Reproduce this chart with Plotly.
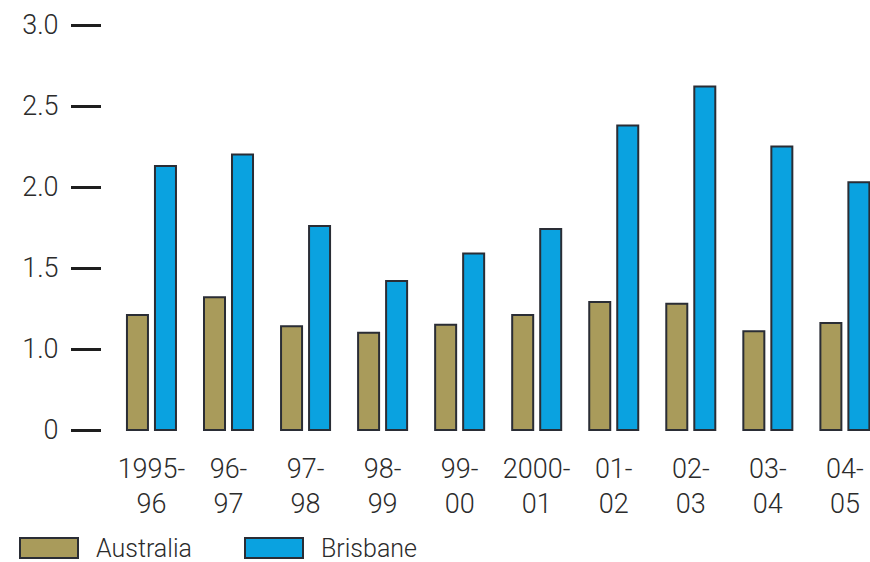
import plotly.graph_objects as go

categories = ["1995-<br>96", "96-<br>97", "97-<br>98", "98-<br>99", "99-<br>00",
              "2000-<br>01", "01-<br>02", "02-<br>03", "03-<br>04", "04-<br>05"]
australia = [1.21, 1.32, 1.14, 1.10, 1.15, 1.21, 1.29, 1.28, 1.11, 1.16]
brisbane = [2.13, 2.20, 1.76, 1.42, 1.59, 1.74, 2.38, 2.62, 2.25, 2.03]
tick_vals = [0.5, 1.0, 1.5, 2.0, 2.5, 3.0]
tick_text = ["0", "1.0", "1.5", "2.0", "2.5", "3.0"]
AXIS_BREAK = 0.5  # the axis is broken: "0" sits where 0.5 would be

C_AUS = "#a99b5b"
C_BRI = "#0aa2e0"
OUTLINE = "#2a2d35"
TXT = "#2b2b2b"
FONT = "Roboto"

x_idx = list(range(len(categories)))

fig = go.Figure()
fig.add_bar(x=x_idx, y=[v - AXIS_BREAK for v in australia], base=AXIS_BREAK,
            name="Australia", marker=dict(color=C_AUS, line=dict(color=OUTLINE, width=2)),
            customdata=australia, hovertemplate="%{customdata}<extra>Australia</extra>")
fig.add_bar(x=x_idx, y=[v - AXIS_BREAK for v in brisbane], base=AXIS_BREAK,
            name="Brisbane", marker=dict(color=C_BRI, line=dict(color=OUTLINE, width=2)),
            customdata=brisbane, hovertemplate="%{customdata}<extra>Brisbane</extra>")

fig.update_layout(
    width=870, height=562,
    margin=dict(l=102, r=0, t=15, b=130),
    paper_bgcolor="white", plot_bgcolor="white",
    barmode="group", bargap=0.273, bargroupgap=0.25,
    showlegend=False,
    font=dict(family=FONT, size=27, color=TXT, weight=300),
)
fig.update_xaxes(
    tickmode="array", tickvals=x_idx, ticktext=categories,
    range=[-0.642, 9.326], showgrid=False, zeroline=False, showline=False,
    ticks="", ticklabelstandoff=18,
    tickfont=dict(family=FONT, size=27, color=TXT, weight=300),
)
fig.update_yaxes(
    range=[0.4877, 3.0617], tickmode="array", tickvals=tick_vals, ticktext=tick_text,
    showgrid=False, zeroline=False, showline=False,
    ticks="outside", ticklen=30, tickwidth=3, tickcolor="#1e1e1e",
    ticklabelstandoff=7, tickfont=dict(family=FONT, size=27, color=TXT, weight=300),
)

# Legend drawn manually with large swatches
legend_items = [("Australia", C_AUS, 20), ("Brisbane", C_BRI, 245)]
for name, color, x0 in legend_items:
    fig.add_shape(type="rect", xref="paper", yref="paper",
                  x0=(x0 - 102) / 768, x1=(x0 + 58 - 102) / 768,
                  y0=-(558 - 432) / 417, y1=-(538 - 432) / 417,
                  fillcolor=color, line=dict(color=OUTLINE, width=2))
    fig.add_annotation(text=name, xref="paper", yref="paper",
                       x=(x0 + 74 - 102) / 768, y=-(548 - 432) / 417,
                       xanchor="left", yanchor="middle", showarrow=False,
                       font=dict(family=FONT, size=25, color=TXT, weight=300))

fig.write_html("out.html")
